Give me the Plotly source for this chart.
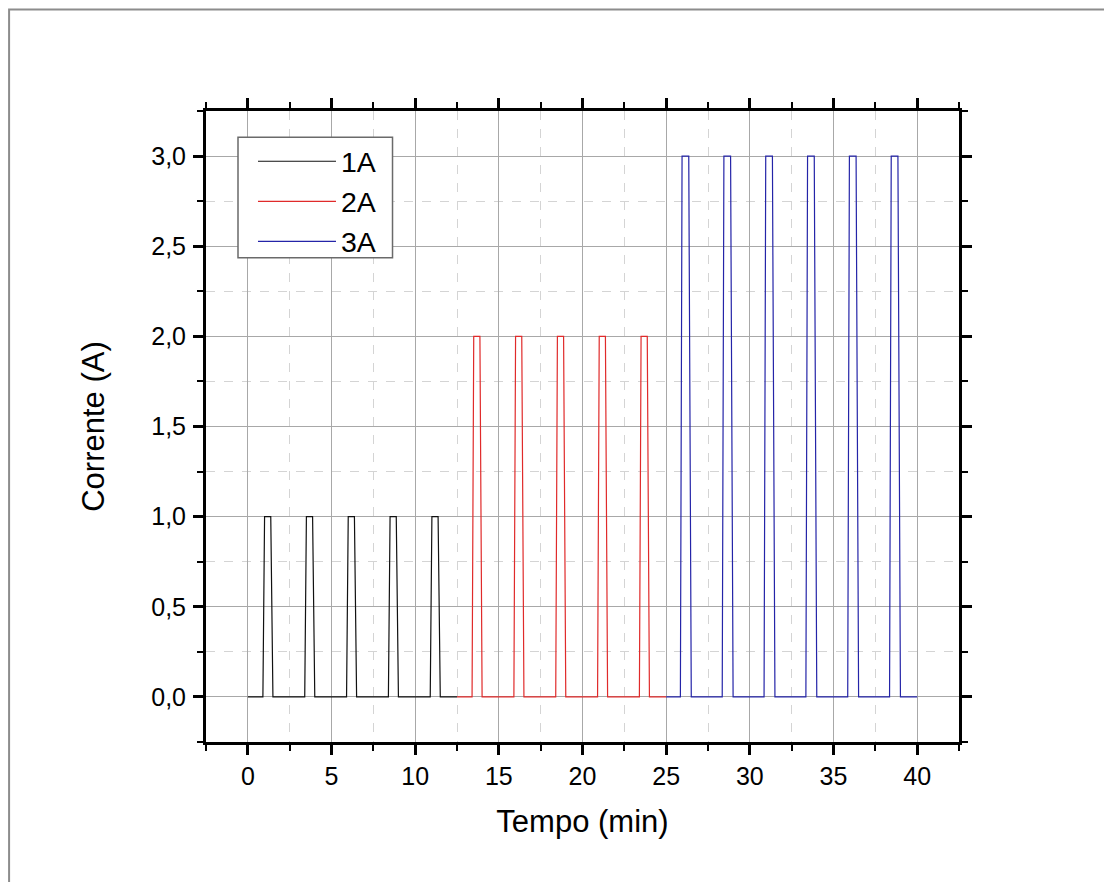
import plotly.graph_objects as go

# ---- data ----
t_1A = [0, 0.9, 1.0, 1.37, 1.5, 3.4, 3.5, 3.87, 4.0, 5.9, 6.0, 6.37, 6.5,
        8.4, 8.5, 8.87, 9.0, 10.9, 11.0, 11.37, 11.5, 12.5]
i_1A = [0, 0, 1, 1, 0, 0, 1, 1, 0, 0, 1, 1, 0,
        0, 1, 1, 0, 0, 1, 1, 0, 0]

t_2A = [12.5, 13.4, 13.5, 13.87, 14.0, 15.9, 16.0, 16.37, 16.5, 18.4, 18.5, 18.87, 19.0,
        20.9, 21.0, 21.37, 21.5, 23.4, 23.5, 23.87, 24.0, 25.0]
i_2A = [0, 0, 2, 2, 0, 0, 2, 2, 0, 0, 2, 2, 0,
        0, 2, 2, 0, 0, 2, 2, 0, 0]

t_3A = [25.0, 25.85, 25.95, 26.35, 26.5, 28.35, 28.45, 28.85, 29.0, 30.85, 30.95, 31.35, 31.5,
        33.35, 33.45, 33.85, 34.0, 35.85, 35.95, 36.35, 36.5, 38.35, 38.45, 38.85, 39.0, 40.0]
i_3A = [0, 0, 3, 3, 0, 0, 3, 3, 0, 0, 3, 3, 0,
        0, 3, 3, 0, 0, 3, 3, 0, 0, 3, 3, 0, 0]

series_names = ["1A", "2A", "3A"]
series_colors = ["#111111", "#e02a2a", "#2424a8"]

FONT = "Arial, 'Liberation Sans', sans-serif"

fig = go.Figure()
for name, t, i, c in zip(series_names, [t_1A, t_2A, t_3A], [i_1A, i_2A, i_3A], series_colors):
    fig.add_trace(go.Scatter(x=t, y=i, mode="lines", name=name,
                             line=dict(color=c, width=1.2)))

axis_common = dict(
    showline=True, linecolor="black", linewidth=3, mirror="ticks",
    ticks="outside", ticklen=10, tickwidth=2.5, tickcolor="black",
    showgrid=True, gridcolor="#a8a8a8", gridwidth=1,
    zeroline=False,
    tickfont=dict(family=FONT, size=25, color="black"),
)

fig.update_xaxes(
    range=[-2.5, 42.5], tick0=0, dtick=5,
    minor=dict(dtick=2.5, ticklen=6, tickwidth=2, tickcolor="black", ticks="outside",
               showgrid=True, gridcolor="#d4d4d4", griddash="dash", gridwidth=1),
    title=dict(text="Tempo (min)", font=dict(family=FONT, size=31, color="black"), standoff=22),
    **axis_common,
)
fig.update_yaxes(
    range=[-0.25, 3.25], tick0=0, dtick=0.5, tickformat=".1f",
    ticklabelstandoff=2,
    minor=dict(dtick=0.25, ticklen=6, tickwidth=2, tickcolor="black", ticks="outside",
               showgrid=True, gridcolor="#d4d4d4", griddash="dash", gridwidth=1),
    title=dict(text="Corrente (A)", font=dict(family=FONT, size=31, color="black"), standoff=38),
    **axis_common,
)

fig.update_layout(
    width=1112, height=882,
    margin=dict(l=198, r=161, t=103, b=148, pad=0),
    paper_bgcolor="white", plot_bgcolor="white",
    separators=",.",
    showlegend=True,
    legend=dict(
        x=0.0624, y=0.9600, xanchor="left", yanchor="top",
        bgcolor="rgba(0,0,0,0)", borderwidth=0,
        font=dict(family=FONT, size=28.5, color="black"),
        itemwidth=78, tracegroupgap=0,
    ),
    shapes=[
        dict(type="rect", xref="paper", yref="paper",
             x0=-0.2615, x1=1.2005, y0=-0.235, y1=1.1609,
             line=dict(color="#8c8c8c", width=2), layer="below"),
        dict(type="rect", xref="paper", yref="paper",
             x0=0.0425, x1=0.2477, y0=0.7673, y1=0.9585,
             fillcolor="white", line=dict(color="#6a6a6a", width=1.5), layer="above"),
    ],
)

fig.write_html("out.html")
